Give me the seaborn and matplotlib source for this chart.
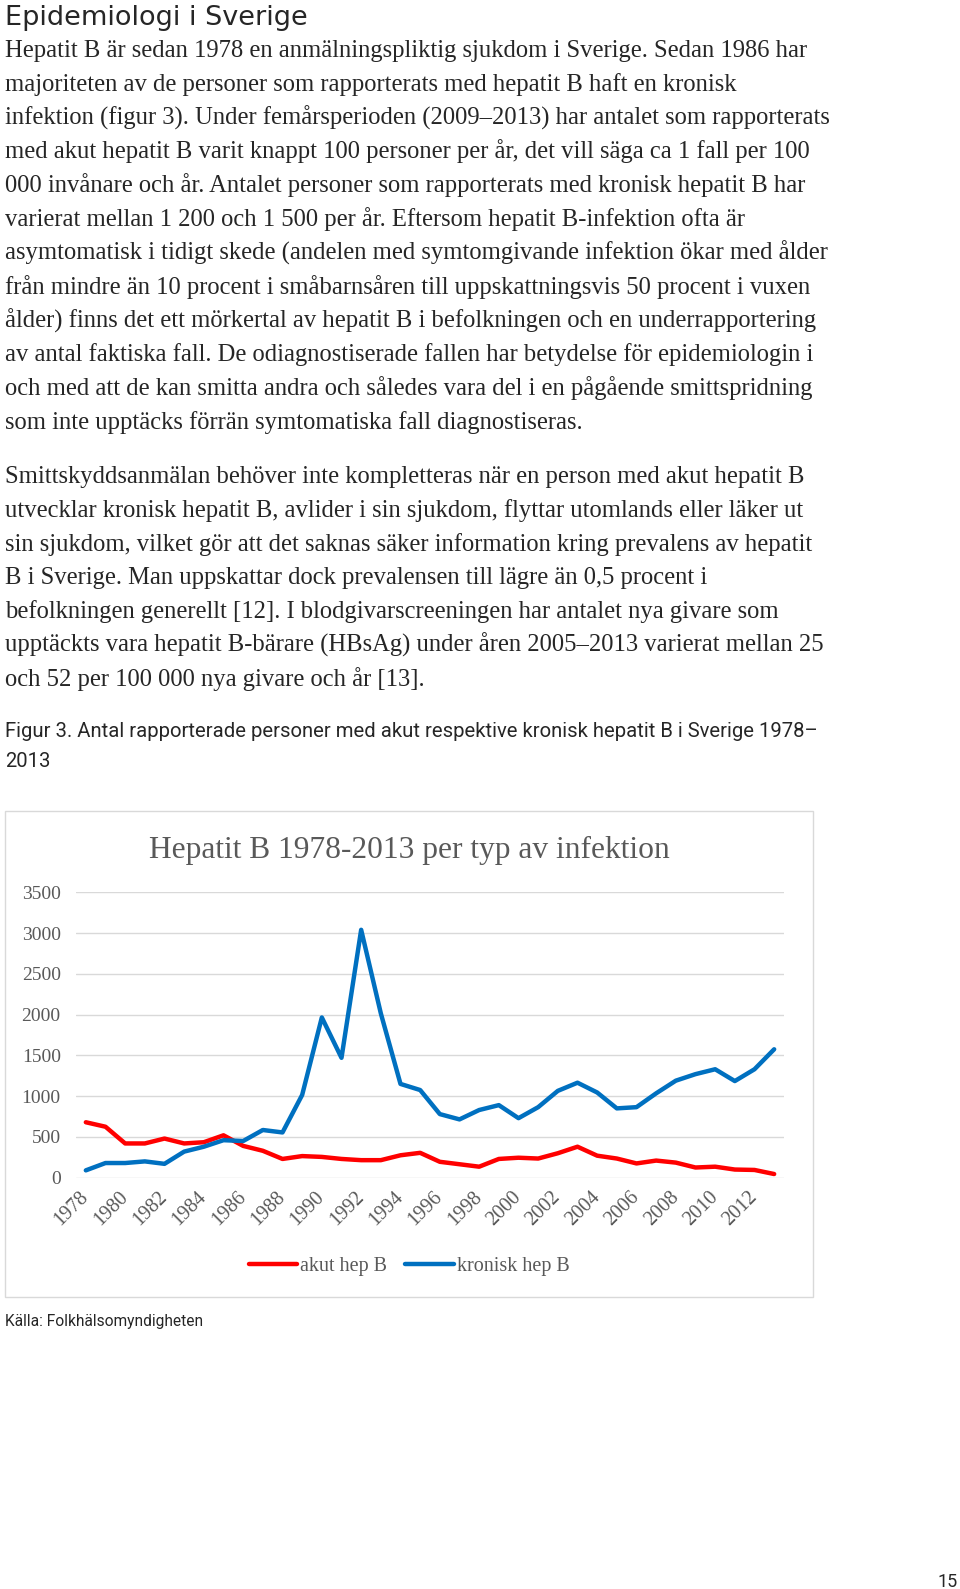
"""Recreate report page: Epidemiologi i Sverige, figur 3 (hepatit B 1978-2013)."""

import matplotlib
matplotlib.use("Agg")
import matplotlib.pyplot as plt
from matplotlib.patches import Rectangle
import pandas as pd
import seaborn as sns

W, H = 960, 1589

# --- data -----------------------------------------------------------------
years = [1978, 1979, 1980, 1981, 1982, 1983, 1984, 1985, 1986, 1987, 1988, 1989,
         1990, 1991, 1992, 1993, 1994, 1995, 1996, 1997, 1998, 1999, 2000, 2001,
         2002, 2003, 2004, 2005, 2006, 2007, 2008, 2009, 2010, 2011, 2012, 2013]
akut = [680, 625, 420, 420, 480, 420, 435, 520, 390, 330, 230, 265,
        255, 230, 215, 215, 275, 305, 195, 165, 135, 230, 245, 235,
        300, 380, 270, 235, 175, 210, 185, 125, 135, 100, 95, 45]
kronisk = [90, 180, 180, 200, 170, 320, 380, 460, 450, 585, 555, 1015,
           1965, 1470, 3040, 2015, 1150, 1075, 780, 715, 830, 890, 730, 865,
           1065, 1165, 1045, 850, 865, 1035, 1190, 1270, 1330, 1185, 1330, 1575]
series_names = ["akut hep B", "kronisk hep B"]
y_ticks = [0, 500, 1000, 1500, 2000, 2500, 3000, 3500]

heading = "Epidemiologi i Sverige"
para1 = [
    "Hepatit B är sedan 1978 en anmälningspliktig sjukdom i Sverige. Sedan 1986 har",
    "majoriteten av de personer som rapporterats med hepatit B haft en kronisk",
    "infektion (figur 3). Under femårsperioden (2009–2013) har antalet som rapporterats",
    "med akut hepatit B varit knappt 100 personer per år, det vill säga ca 1 fall per 100",
    "000 invånare och år. Antalet personer som rapporterats med kronisk hepatit B har",
    "varierat mellan 1 200 och 1 500 per år. Eftersom hepatit B-infektion ofta är",
    "asymtomatisk i tidigt skede (andelen med symtomgivande infektion ökar med ålder",
    "från mindre än 10 procent i småbarnsåren till uppskattningsvis 50 procent i vuxen",
    "ålder) finns det ett mörkertal av hepatit B i befolkningen och en underrapportering",
    "av antal faktiska fall. De odiagnostiserade fallen har betydelse för epidemiologin i",
    "och med att de kan smitta andra och således vara del i en pågående smittspridning",
    "som inte upptäcks förrän symtomatiska fall diagnostiseras.",
]
para2 = [
    "Smittskyddsanmälan behöver inte kompletteras när en person med akut hepatit B",
    "utvecklar kronisk hepatit B, avlider i sin sjukdom, flyttar utomlands eller läker ut",
    "sin sjukdom, vilket gör att det saknas säker information kring prevalens av hepatit",
    "B i Sverige. Man uppskattar dock prevalensen till lägre än 0,5 procent i",
    "befolkningen generellt [12]. I blodgivarscreeningen har antalet nya givare som",
    "upptäckts vara hepatit B-bärare (HBsAg) under åren 2005–2013 varierat mellan 25",
    "och 52 per 100 000 nya givare och år [13].",
]
caption = ["Figur 3. Antal rapporterade personer med akut respektive kronisk hepatit B i Sverige 1978–",
           "2013"]
chart_title = "Hepatit B 1978-2013 per typ av infektion"
source = "Källa: Folkhälsomyndigheten"
page_no = "15"

df = pd.DataFrame({
    "year": years * 2,
    "antal": akut + kronisk,
    "typ": [series_names[0]] * len(years) + [series_names[1]] * len(years),
})

# --- page -----------------------------------------------------------------
sns.set_style("white")
plt.rcParams["font.family"] = ["Liberation Serif", "DejaVu Serif"]

SERIF = ["Liberation Serif", "DejaVu Serif"]
SANS = ["DejaVu Sans"]
NARROW = ["Roboto", "DejaVu Sans"]
GREY = "#595959"


def fy(y):
    return 1 - y / H


fig = plt.figure(figsize=(W / 100, H / 100), dpi=100)

fig.text(5 / W, fy(25), heading, family=SANS, fontsize=19.5, va="baseline")

for i, line in enumerate(para1):
    fig.text(5 / W, fy(57 + 33.8 * i), line, family=SERIF, fontsize=17.7, va="baseline")
for i, line in enumerate(para2):
    fig.text(5 / W, fy(483 + 33.8 * i), line, family=SERIF, fontsize=17.7, va="baseline")
for i, line in enumerate(caption):
    fig.text(5 / W, fy(737 + 30 * i), line, family=NARROW, fontsize=14.6, va="baseline")

fig.text(5 / W, fy(1326), source, family=NARROW, fontsize=11.2, va="baseline")
fig.text(958 / W, fy(1587), page_no, family=NARROW, fontsize=13, va="baseline", ha="right")

# chart frame
fig.patches.append(Rectangle((5 / W, fy(1297)), 808 / W, (1297 - 811) / H,
                             transform=fig.transFigure, fill=False,
                             edgecolor="#d9d9d9", linewidth=1))
fig.text(409 / W, fy(858), chart_title, family=SERIF, fontsize=22.7, color=GREY, ha="center",
         va="baseline")

# --- chart ----------------------------------------------------------------
ax_left, ax_right, ax_top, ax_bottom = 76, 784, 892.3, 1177.7
ax = fig.add_axes([ax_left / W, fy(ax_bottom), (ax_right - ax_left) / W, (ax_bottom - ax_top) / H])

sns.lineplot(data=df, x="year", y="antal", hue="typ",
             palette={series_names[0]: "#ff0000", series_names[1]: "#0070c0"},
             linewidth=3.2, ax=ax, solid_capstyle="round", solid_joinstyle="round")

ax.set_xlim(years[0] - 0.5, years[-1] + 0.5)
ax.set_ylim(0, 3500)
ax.set_yticks(y_ticks)
ax.set_yticklabels([str(v) for v in y_ticks], family=SERIF, fontsize=14, color=GREY)
ax.set_xticks(years[::2])
ax.set_xticklabels([str(v) for v in years[::2]], family=SERIF, fontsize=14.5, color=GREY,
                   rotation=45, ha="right", va="center", rotation_mode="anchor")
ax.tick_params(axis="both", length=0)
ax.tick_params(axis="y", pad=11)
ax.tick_params(axis="x", pad=12)
ax.grid(axis="y", color="#d9d9d9", linewidth=1)
ax.set_axisbelow(True)
for spine in ax.spines.values():
    spine.set_visible(False)
ax.set_xlabel("")
ax.set_ylabel("")

sns.move_legend(ax, "center", bbox_to_anchor=((409 - ax_left) / (ax_right - ax_left),
                                               (ax_bottom - 1266) / (ax_bottom - ax_top)),
                ncol=2, frameon=False, title=None, handlelength=2.4, handletextpad=0.15,
                columnspacing=0.9, prop={"family": SERIF, "size": 14.5})
for txt in ax.get_legend().get_texts():
    txt.set_color(GREY)

fig.savefig("out.png", dpi=100)
